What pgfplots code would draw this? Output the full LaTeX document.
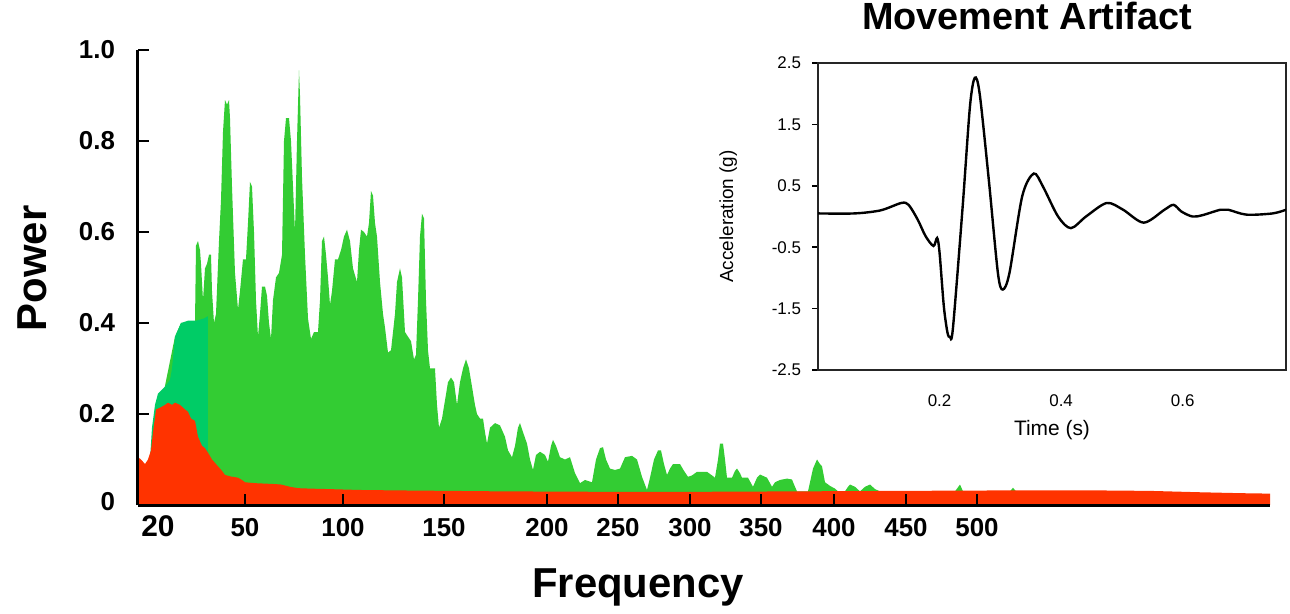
\documentclass[border=0pt]{standalone}
\usepackage{fontspec}
\setmainfont{Liberation Sans}
\usepackage{pgfplots}
\pgfplotsset{compat=1.18}

\definecolor{spred}{RGB}{255,51,0}
\definecolor{splime}{RGB}{51,204,51}
\definecolor{spteal}{RGB}{0,204,102}

% frequency axis of the original is not linear: x is the position along the axis,
% ticks carry the printed frequency labels
\begin{document}
\begin{tikzpicture}
\useasboundingbox (-69bp,-54.5bp) rectangle (576bp,252.5bp);

\begin{axis}[
  at={(0,0)}, anchor=south west,
  scale only axis, width=566bp, height=227.5bp,
  xmin=138, xmax=1270, ymin=0, ymax=1,
  axis lines*=left,
  xtick pos=bottom, ytick pos=left,
  axis line style={-, line width=1.5bp, black},
  axis on top, clip mode=individual,
  tick align=inside, major tick length=5.5bp,
  tick style={draw=black, line width=1.3bp},
  xtick={245,343,444,547,618,690,761,834,906,977},
  xticklabels={50,100,150,200,250,300,350,400,450,500},
  ytick={0,0.2,0.4,0.6,0.8,1.0},
  yticklabels={\raisebox{4bp}{0},0.2,0.4,0.6,0.8,1.0},
  tick label style={font=\bfseries\fontsize{13}{13}\selectfont},
  xticklabel style={yshift=-3bp},
  yticklabel style={xshift=-8bp},
  xlabel={Frequency}, ylabel={Power},
  label style={font=\bfseries\fontsize{21}{21}\selectfont},
  xlabel style={at={(axis description cs:0.4417,-0.182)}, anchor=center},
  ylabel style={at={(axis description cs:-0.093,0.52)}, anchor=center, rotate=0},
]
% lime green spectrum envelope
\addplot[fill=splime, draw=none] coordinates {
(150,0) (150,0.10) (175,0.37) (181,0.40) (195,0.40) (196,0.57) (198,0.58) (200,0.56)
(201,0.53) (203,0.45) (205,0.52) (207,0.53) (209,0.55) (211,0.55) (212,0.47) (214,0.40)
(216,0.42) (219,0.58) (221,0.67) (223,0.82) (225,0.89) (227,0.88) (229,0.89) (230,0.85)
(232,0.70) (235,0.51) (238,0.43) (240,0.47) (243,0.54) (246,0.54) (248,0.62) (250,0.71)
(252,0.70) (254,0.60) (256,0.45) (258,0.37) (260,0.42) (262,0.48) (265,0.48) (267,0.46)
(269,0.40) (271,0.365) (273,0.45) (276,0.50) (279,0.51) (282,0.55) (284,0.80) (286,0.85)
(289,0.85) (291,0.80) (293,0.70) (295,0.60) (297,0.80) (299,0.955) (300,0.90) (302,0.72)
(305,0.55) (308,0.41) (311,0.365) (314,0.38) (318,0.38) (320,0.45) (322,0.58) (324,0.59)
(326,0.55) (328,0.50) (330,0.44) (332,0.47) (335,0.54) (338,0.54) (341,0.56) (344,0.59)
(347,0.605) (350,0.58) (353,0.52) (357,0.49) (359,0.56) (361,0.605) (364,0.60) (367,0.59)
(369,0.62) (371,0.69) (373,0.68) (375,0.62) (377,0.59) (380,0.49) (383,0.42) (385,0.39)
(388,0.335) (391,0.34) (393,0.38) (395,0.42) (397,0.49) (400,0.52) (402,0.50) (405,0.38)
(408,0.37) (411,0.36) (414,0.32) (416,0.33) (418,0.45) (420,0.59) (422,0.64) (424,0.63)
(426,0.45) (428,0.34) (430,0.30) (435,0.30) (437,0.22) (439,0.17) (442,0.19) (445,0.23)
(448,0.27) (451,0.28) (454,0.27) (457,0.22) (460,0.27) (463,0.30) (466,0.32) (469,0.30)
(472,0.26) (475,0.22) (477,0.20) (480,0.19) (483,0.19) (485,0.16) (487,0.135) (490,0.17)
(495,0.18) (500,0.175) (505,0.15) (508,0.12) (512,0.105) (515,0.13) (518,0.17) (520,0.18)
(523,0.16) (527,0.135) (530,0.10) (533,0.077) (536,0.11) (540,0.117) (545,0.11) (548,0.095)
(551,0.13) (553,0.143) (556,0.13) (560,0.105) (565,0.10) (570,0.105) (575,0.07) (580,0.048)
(585,0.055) (592,0.05) (596,0.10) (600,0.125) (603,0.127) (606,0.10) (610,0.08) (615,0.077)
(620,0.08) (625,0.105) (632,0.108) (637,0.10) (642,0.062) (647,0.033) (650,0.06) (654,0.10)
(658,0.12) (661,0.12) (664,0.09) (667,0.066) (670,0.08) (673,0.09) (680,0.09) (684,0.075)
(688,0.062) (692,0.065) (697,0.073) (707,0.073) (712,0.065) (715,0.06) (718,0.10) (720,0.135)
(723,0.135) (725,0.10) (727,0.06) (732,0.06) (735,0.075) (737,0.08) (740,0.07) (742,0.06)
(748,0.06) (753,0.04) (757,0.06) (760,0.067) (767,0.06) (772,0.04) (775,0.05) (780,0.055)
(787,0.058) (792,0.056) (795,0.04) (797,0.03) (808,0.03) (810,0.05) (813,0.08) (817,0.10)
(820,0.09) (822,0.085) (825,0.05) (830,0.042) (835,0.036) (838,0.03) (845,0.03) (848,0.04)
(850,0.045) (855,0.04) (860,0.03) (865,0.04) (870,0.045) (875,0.035) (880,0.03) (955,0.03)
(960,0.045) (963,0.03) (1010,0.03) (1013,0.038) (1016,0.03) (1020,0.03) (1020,0)
} \closedcycle;
% low-frequency shoulder (teal)
\addplot[fill=spteal, draw=none] coordinates {
(150,0) (150,0.10) (152,0.17) (155,0.22) (158,0.245) (165,0.26) (170,0.275) (172,0.30)
(175,0.37) (181,0.40) (188,0.405) (196,0.405) (204,0.41) (208,0.415) (208,0)
} \closedcycle;
% red spectrum
\addplot[fill=spred, draw=none] coordinates {
(138,0) (138,0.105) (141,0.10) (145,0.09) (148,0.10) (151,0.12) (153,0.16) (156,0.21)
(161,0.215) (165,0.22) (168,0.225) (172,0.22) (175,0.225) (180,0.22) (185,0.21) (188,0.205)
(191,0.19) (195,0.185) (198,0.15) (202,0.13) (205,0.125) (208,0.115) (212,0.10) (218,0.085)
(222,0.075) (225,0.066) (230,0.063) (238,0.06) (242,0.055) (245,0.05) (255,0.048) (265,0.047)
(275,0.046) (281,0.045) (290,0.04) (298,0.037) (310,0.036) (328,0.035) (360,0.033) (400,0.032)
(500,0.03) (600,0.029) (700,0.029) (800,0.030) (900,0.031) (1000,0.032) (1100,0.032)
(1150,0.031) (1200,0.028) (1240,0.026) (1270,0.025) (1270,0)
} \closedcycle;
\node[font=\bfseries\fontsize{15}{15}\selectfont] at (axis cs:158,-0.047) {20};
\end{axis}

% overlay: x tick marks drawn over the filled spectra
\begin{axis}[
  at={(0,0)}, anchor=south west,
  scale only axis, width=566bp, height=227.5bp,
  xmin=138, xmax=1270, ymin=0, ymax=1,
  axis lines*=left,
  axis line style={-, line width=1.5bp, black},
  y axis line style={draw=none},
  ytick=\empty,
  xtick={245,343,444,547,618,690,761,834,906,977},
  xticklabels={},
  tick align=inside, major tick length=5.5bp,
  xtick style={draw=black, line width=1.3bp},
]
\end{axis}

\begin{axis}[
  at={(340bp,67.5bp)}, anchor=south west,
  scale only axis, width=234bp, height=153.5bp,
  xmin=0, xmax=0.77, ymin=-2.5, ymax=2.5,
  axis line style={line width=0.8bp, black!85},
  xtick={0.2,0.4,0.6}, xticklabels={0.2,0.4,0.6},
  ytick={-2.5,-1.5,-0.5,0.5,1.5,2.5},
  yticklabels={-2.5,-1.5,-0.5,0.5,1.5,2.5},
  xtick pos=bottom, ytick pos=left,
  tick align=outside, major tick length=3bp,
  xtick style={draw=none}, ytick style={black, line width=0.8bp},
  tick label style={font=\fontsize{8.5}{8.5}\selectfont},
  xticklabel style={yshift=-6bp},
  yticklabel style={xshift=-2bp},
  title={Movement Artifact},
  title style={font=\bfseries\fontsize{19}{19}\selectfont,
    at={(axis description cs:0.447,1.114)}, anchor=center},
  xlabel={Time (s)}, ylabel={Acceleration (g)},
  xlabel style={font=\fontsize{10.5}{10.5}\selectfont,
    at={(axis description cs:0.5,-0.195)}, anchor=center},
  ylabel style={font=\fontsize{9.5}{9.5}\selectfont,
    at={(axis description cs:-0.192,0.5)}, anchor=center},
]
\addplot[black, line width=1.2bp, smooth, tension=0.5] coordinates {
(0.000,0.05) (0.060,0.05) (0.103,0.10) (0.137,0.22) (0.149,0.19) (0.164,-0.05)
(0.177,-0.32) (0.190,-0.48) (0.196,-0.35) (0.200,-0.59) (0.207,-1.46) (0.213,-1.89)
(0.217,-1.96) (0.222,-1.82) (0.238,0.16) (0.250,1.79) (0.258,2.26) (0.266,2.0)
(0.281,0.6) (0.296,-0.92) (0.304,-1.19) (0.315,-0.92) (0.336,0.33) (0.355,0.70)
(0.370,0.49) (0.395,0.0) (0.416,-0.19) (0.441,0.0) (0.475,0.22) (0.502,0.11)
(0.536,-0.10) (0.570,0.11) (0.585,0.19) (0.598,0.08) (0.616,0.0) (0.632,0.02)
(0.662,0.11) (0.675,0.11) (0.705,0.03) (0.748,0.05) (0.770,0.11)
};
\end{axis}
\end{tikzpicture}
\end{document}
